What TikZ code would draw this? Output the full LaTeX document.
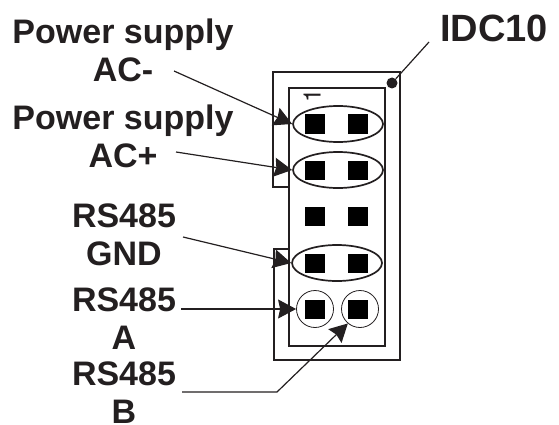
\documentclass[tikz,border=0pt]{standalone}
\usepackage{fontspec}
\setmainfont{Liberation Sans}
\newfontfamily\markfont{TeX Gyre Heros}
\usepackage{xcolor}
\usetikzlibrary{arrows.meta}
\usetikzlibrary{shapes.geometric}
\definecolor{inkblack}{HTML}{231F20}
\tikzset{
	pinlabel/.style={font=\fontsize{34}{38}\selectfont\bfseries, align=center, text=inkblack, inner sep=0pt},
	pinoval/.style={draw=inkblack, line width=1.7pt, ellipse, minimum width=90pt, minimum height=36pt, inner sep=0pt},
	pinring/.style={draw=inkblack, line width=0.8pt, circle, minimum size=37pt, inner sep=0pt},
	pinsquare/.style={fill=black, minimum width=20pt, minimum height=19pt, inner sep=0pt},
	callout/.style={draw=inkblack, line width=1.2pt, -{Stealth[length=18pt,width=19pt,inset=2pt]}},
	frameline/.style={draw=inkblack, line width=1.8pt}
}
\begin{document}
\begin{tikzpicture}[x=1pt, y=-1pt]
	\useasboundingbox (0, 0) rectangle (559, 425);
	% connector body
	\draw[frameline] (289, 187) -- (273, 187) -- (273, 72) -- (400, 72) -- (400, 360) -- (274, 360) -- (274, 249) -- (289, 249);
	\draw[frameline] (289, 88) rectangle (385, 346);
	\node[fill=inkblack, circle, minimum size=11pt, inner sep=0pt] (dot) at (392, 83) {};
	\node[font=\fontsize{24}{24}\selectfont\markfont, rotate=90, text=inkblack, inner sep=0pt] (pinone) at (312, 96) {1};
	% pins
	\foreach \row/\y in {a/124, b/170, c/216, d/263, e/309} {
		\node[pinsquare] (\row1) at (315, \y) {};
		\node[pinsquare] (\row2) at (358, \y) {};
	}
	\node[pinoval] (ovalminus) at (338, 124) {};
	\node[pinoval] (ovalplus) at (338, 170) {};
	\node[pinoval] (ovalgnd) at (337, 263) {};
	\node[pinring] (ringa) at (315, 309) {};
	\node[pinring] (ringb) at (360, 309) {};
	% labels
	\node[pinlabel] (acminus) at (123, 50) {Power supply\\AC-};
	\node[pinlabel] (acplus) at (123, 136) {Power supply\\AC+};
	\node[pinlabel] (gnd) at (124, 235) {RS485\\GND};
	\node[pinlabel] (rsa) at (124, 319) {RS485\\A};
	\node[pinlabel] (rsb) at (124, 393) {RS485\\B};
	\node[pinlabel, font=\fontsize{38}{38}\selectfont\bfseries] (idc) at (494, 28) {IDC10};
	% callouts
	\coordinate (startminus) at (174, 71);
	\coordinate (startplus) at (176, 152);
	\coordinate (startgnd) at (183, 237);
	\coordinate (starta) at (181, 309);
	\coordinate (startb) at (182, 392);
	\coordinate (bendb) at (277, 392);
	\coordinate (startidc) at (429, 42);
	\draw[callout] (startminus) -- (ovalminus.west);
	\draw[callout] (startplus) -- (ovalplus.west);
	\draw[callout] (startgnd) -- (ovalgnd.west);
	\draw[callout] (starta) -- (ringa.west);
	\draw[callout] (startb) -- (bendb) -- (ringb.230);
	\draw[draw=inkblack, line width=1.2pt] (startidc) -- (dot);
\end{tikzpicture}
\end{document}
